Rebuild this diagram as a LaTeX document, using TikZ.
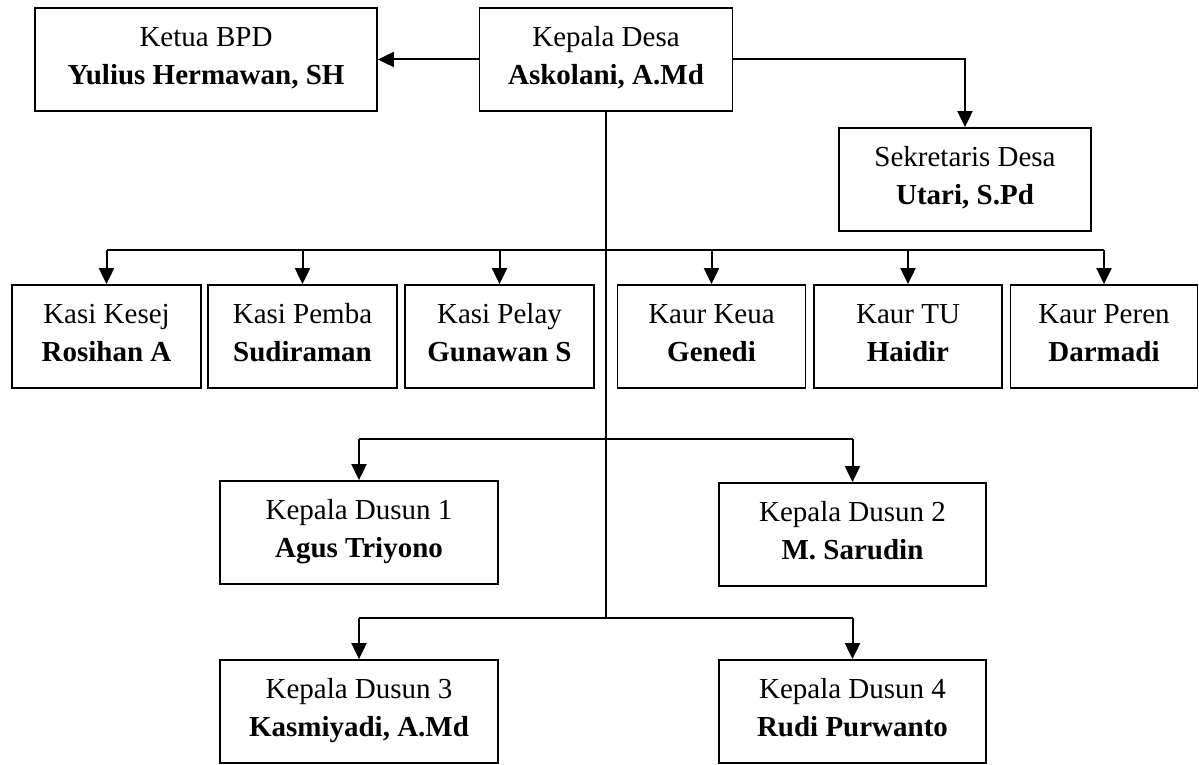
\documentclass[tikz,border=0pt]{standalone}
\usepackage{fontspec}
\setmainfont{Liberation Serif}
\usetikzlibrary{arrows.meta}
\tikzset{
  box/.style={draw, line width=1.8pt, minimum height=103pt, inner sep=0pt, align=center,
    text height=58.5pt, text depth=8pt,
    font=\fontsize{29}{38.5}\selectfont},
  conn/.style={line width=2pt},
  arr/.style={line width=2pt, -{Triangle[length=16pt,width=15pt]}}
}
\begin{document}
\begin{tikzpicture}[x=1pt,y=-1pt]
\useasboundingbox (0,0) rectangle (1199,765);
% top row
\node[box, minimum width=342pt] (ketua) at (206,59.5) {Ketua BPD\\\textbf{Yulius Hermawan, SH}};
\node[box, minimum width=253pt] (kd) at (606,59.5) {Kepala Desa\\\textbf{Askolani, A.Md}};
\node[box, minimum width=252pt] (sek) at (965,179.5) {Sekretaris Desa\\\textbf{Utari, S.Pd}};
% second row
\node[box, minimum width=189pt] (kesej) at (106.5,336.5) {Kasi Kesej\\\textbf{Rosihan A}};
\node[box, minimum width=189pt] (pemba) at (302.5,336.5) {Kasi Pemba\\\textbf{Sudiraman}};
\node[box, minimum width=189pt] (pelay) at (499.5,336.5) {Kasi Pelay\\\textbf{Gunawan S}};
\node[box, minimum width=188pt] (keua) at (711.5,336.5) {Kaur Keua\\\textbf{Genedi}};
\node[box, minimum width=188pt] (tu) at (908,336.5) {Kaur TU\\\textbf{Haidir}};
\node[box, minimum width=187pt] (peren) at (1104,336.5) {Kaur Peren\\\textbf{Darmadi}};
% dusun
\node[box, minimum width=278pt] (d1) at (359,532.5) {Kepala Dusun 1\\\textbf{Agus Triyono}};
\node[box, minimum width=267pt] (d2) at (852.5,534.5) {Kepala Dusun 2\\\textbf{M. Sarudin}};
\node[box, minimum width=278pt] (d3) at (359,711.5) {Kepala Dusun 3\\\textbf{Kasmiyadi, A.Md}};
\node[box, minimum width=267pt] (d4) at (852.5,711.5) {Kepala Dusun 4\\\textbf{Rudi Purwanto}};
% bus coordinates
\coordinate (bus1) at (606,250);
\coordinate (bus2) at (606,439);
\coordinate (bus3) at (606,618);
% connectors
\draw[arr] (kd.west) -- (ketua.east);
\draw[arr] (kd.east) -| (sek.north);
\draw[conn] (kd.south) -- (bus3);
\draw[conn] (kesej.north |- bus1) -- (peren.north |- bus1);
\foreach \n in {kesej,pemba,pelay,keua,tu,peren}
  \draw[arr] (\n.north |- bus1) -- (\n.north);
\draw[conn] (d1.north |- bus2) -- (d2.north |- bus2);
\draw[arr] (d1.north |- bus2) -- (d1.north);
\draw[arr] (d2.north |- bus2) -- (d2.north);
\draw[conn] (d3.north |- bus3) -- (d4.north |- bus3);
\draw[arr] (d3.north |- bus3) -- (d3.north);
\draw[arr] (d4.north |- bus3) -- (d4.north);
\end{tikzpicture}
\end{document}
